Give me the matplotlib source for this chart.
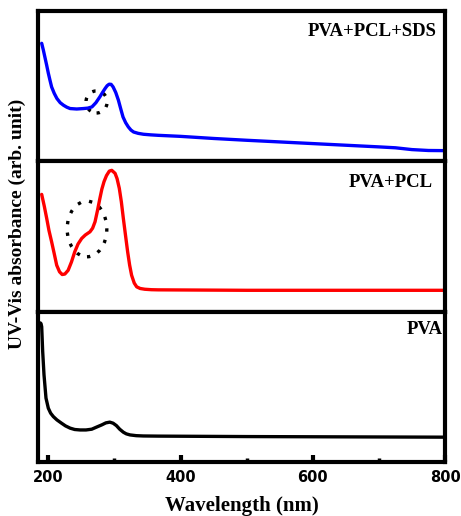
import matplotlib
matplotlib.use("Agg")
import matplotlib.pyplot as plt
from matplotlib.patches import Ellipse

# wavelengths (nm) and relative absorbance
wl_sds = [190, 192.5, 195, 197.5, 200, 202.5, 205, 209, 213, 218, 223, 228, 233, 243,
          253, 260, 266, 272, 278, 282, 286, 289, 292, 295, 298, 302, 306, 309.5,
          313, 317, 321, 325, 329, 336, 344, 355, 366, 400, 450, 500, 550, 600,
          650, 700, 725, 750, 775, 800]
abs_sds = [0.785, 0.74, 0.69, 0.64, 0.587, 0.54, 0.495, 0.452, 0.418, 0.39, 0.373,
           0.36, 0.351, 0.348, 0.351, 0.354, 0.362, 0.39, 0.429, 0.458, 0.485,
           0.503, 0.513, 0.512, 0.495, 0.458, 0.407, 0.35, 0.295, 0.257, 0.229,
           0.208, 0.195, 0.186, 0.18, 0.176, 0.173, 0.166, 0.152, 0.14, 0.129,
           0.118, 0.107, 0.096, 0.09, 0.078, 0.072, 0.071]

wl_pcl = [190, 194, 197.6, 201, 205, 209, 212.7, 217, 221, 225, 230, 235, 240,
          245, 250.5, 256, 263, 267, 270.7, 274.5, 278, 281, 284.3, 288, 292.3,
          296, 301, 304, 307.4, 310.5, 313.5, 317, 320, 323, 326, 330, 333.7,
          339, 346, 356, 366, 500, 650, 800]
abs_pcl = [0.78, 0.7, 0.62, 0.54, 0.465, 0.385, 0.309, 0.265, 0.247, 0.25, 0.275,
           0.33, 0.398, 0.45, 0.487, 0.51, 0.531, 0.555, 0.598, 0.675, 0.753,
           0.815, 0.865, 0.905, 0.935, 0.94, 0.92, 0.885, 0.82, 0.73, 0.62, 0.5,
           0.398, 0.31, 0.242, 0.19, 0.165, 0.154, 0.149, 0.146, 0.145, 0.142,
           0.142, 0.142]

wl_pva = [188, 189, 190, 191.5, 193.5, 196.5, 200, 203.5, 207.6, 213, 220, 226,
          233, 240, 248, 257, 265.7, 273, 281, 287, 293, 298, 303, 308, 313.5,
          318, 323.6, 333, 343.7, 366, 500, 650, 800]
abs_pva = [0.925, 0.92, 0.9, 0.735, 0.58, 0.425, 0.358, 0.325, 0.302, 0.28, 0.258,
           0.24, 0.225, 0.216, 0.213, 0.213, 0.218, 0.232, 0.247, 0.26, 0.265,
           0.258, 0.242, 0.218, 0.198, 0.187, 0.18, 0.175, 0.173, 0.172, 0.169,
           0.167, 0.165]

labels = ["PVA+PCL+SDS", "PVA+PCL", "PVA"]

serif = "Liberation Serif"

fig = plt.figure(figsize=(4.61, 5.16), dpi=100)
gs = fig.add_gridspec(3, 1, left=0.0824, right=0.9653, top=0.9787, bottom=0.1047, hspace=0)
axes = [fig.add_subplot(gs[i]) for i in range(3)]

series = [(wl_sds, abs_sds, "#0000ff"), (wl_pcl, abs_pcl, "#ff0000"), (wl_pva, abs_pva, "black")]
label_pos = [(0.98, 0.862), (0.97, 0.86), (0.995, 0.88)]

for ax, (wl, ab, c), lab, (tx, ty) in zip(axes, series, labels, label_pos):
    ax.plot(wl, ab, color=c, lw=2.4, solid_joinstyle="round", solid_capstyle="round")
    ax.set_xlim(184.4, 800)
    ax.set_ylim(0, 1)
    ax.set_yticks([])
    for s in ax.spines.values():
        s.set_linewidth(3)
    ax.text(tx, ty, lab, transform=ax.transAxes, ha="right", va="center",
            fontsize=13.5, fontweight="bold", family=serif)

# dotted circles marking the shoulder
axes[0].add_patch(Ellipse((273, 0.395), 32, 0.147, fill=False, color="black",
                          lw=2.4, linestyle=(0, (1, 2.5))))
axes[1].add_patch(Ellipse((258.5, 0.55), 60, 0.37, fill=False, color="black",
                          lw=2.4, linestyle=(0, (1, 2.5))))

for ax in axes[:2]:
    ax.tick_params(axis="x", which="both", bottom=False, labelbottom=False)

axb = axes[2]
axb.set_xticks([200, 400, 600, 800])
axb.set_xticks([300, 500, 700], minor=True)
axb.tick_params(axis="x", which="major", direction="in", length=5, width=3, pad=6)
axb.tick_params(axis="x", which="minor", direction="in", length=3, width=2.5)
for t in axb.get_xticklabels():
    t.set_fontweight("bold")
    t.set_fontsize(10.5)
    t.set_family("DejaVu Sans")

axb.set_xlabel("Wavelength (nm)", fontsize=15, fontweight="bold", family=serif, labelpad=8)
fig.text(0.038, 0.566, "UV-Vis absorbance (arb. unit)", rotation=90, ha="center", va="center",
         fontsize=14, fontweight="bold", family=serif)

fig.savefig("out.png", dpi=100)
